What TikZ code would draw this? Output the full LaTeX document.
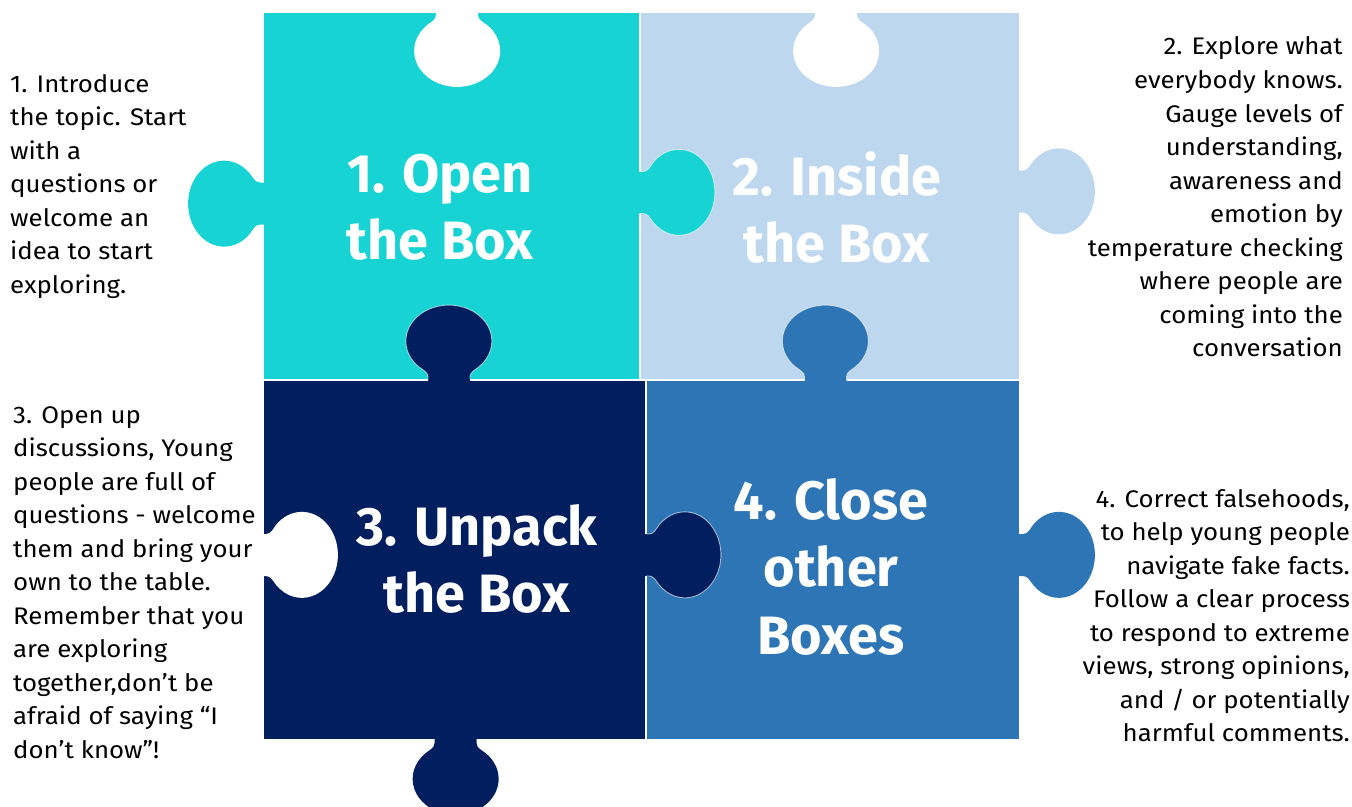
\documentclass[tikz,border=0pt]{standalone}
\usepackage{fontspec}
\setmainfont{Fira Sans}
\newfontfamily\notefont{Fira Sans}[FakeStretch=1.075]
\definecolor{pteal}{HTML}{17D3D3}
\definecolor{plight}{HTML}{BDD7EE}
\definecolor{pnavy}{HTML}{011F5F}
\definecolor{pblue}{HTML}{2E75B6}
\newcommand\linesblock[2]{\begin{tabular}[t]{@{}#1@{}}#2\end{tabular}}
\tikzset{
  % a jigsaw knob: base on the local y-axis, pointing along +x
  knob/.pic={
    \fill[pic actions] (-3,-21) -- (3,-21) .. controls (8,-21) and (10,-26) .. (13,-30)
      arc[start angle=-136,end angle=136,x radius=36,y radius=43]
      .. controls (10,26) and (8,21) .. (3,21) -- (-3,21) -- cycle;
  },
  rim/.pic={
    \draw[white,line width=0.9bp,opacity=0.6] (0,-21) -- (3,-21) .. controls (8,-21) and (10,-26) .. (13,-30)
      arc[start angle=-136,end angle=136,x radius=36,y radius=43]
      .. controls (10,26) and (8,21) .. (3,21) -- (0,21);
  },
  piece/.style={draw=white,line width=1.2bp},
  note/.style={inner sep=0pt,font=\notefont\fontsize{24bp}{33.5bp}\selectfont},
  title/.style={inner sep=0pt,text=white,font=\fontsize{54bp}{67.5bp}\selectfont\bfseries}
}
\begin{document}
\begin{tikzpicture}[x=1bp,y=-1bp]
\useasboundingbox (0,0) rectangle (1352,806);
\clip (0,0) rectangle (1352,806);
% the four square bodies
\fill[pteal,piece] (263,12) rectangle (640,380);
\fill[plight,piece] (640,12) rectangle (1020,380);
\fill[pnavy,piece] (263,380) rectangle (646,740);
\fill[pblue,piece] (646,380) rectangle (1020,740);
% outer knobs
\pic[fill=pteal,rotate=180] at (263,203.5) {knob};
\pic[fill=plight] at (1020,191.5) {knob};
\pic[fill=pnavy,rotate=270] at (455.5,740) {knob};
\pic[fill=pblue] at (1020,555) {knob};
% outer sockets
\pic[fill=white,rotate=270] at (457,12) {knob};
\pic[fill=white,rotate=270] at (836,12) {knob};
\pic[fill=white] at (263,555) {knob};
% inner knobs locking the pieces together
\pic[fill=pteal] at (640,192.5) {knob};
\pic at (640,192.5) {rim};
\pic[fill=pnavy,rotate=90] at (449,380) {knob};
\pic[rotate=90] at (449,380) {rim};
\pic[fill=pblue,rotate=90] at (825.5,380) {knob};
\pic[rotate=90] at (825.5,380) {rim};
\pic[fill=pnavy] at (646,555) {knob};
\pic at (646,555) {rim};
% piece titles
\node[title,anchor=base] (t1) at (440,192) {\linesblock{c}{1. Open\\the Box}};
\node[title,anchor=base] (t2) at (837,195) {\linesblock{c}{2. Inside\\the Box}};
\node[title,anchor=base] (t3) at (477,545) {\linesblock{c}{3. Unpack\\the Box}};
\node[title,anchor=base] (t4) at (831,519) {\linesblock{c}{4. Close\\other\\Boxes}};
% side notes
\node[note,anchor=base west] (n1) at (10,92) {\linesblock{l}{1. Introduce\\the topic. Start\\with a\\questions or\\welcome an\\idea to start\\exploring.}};
\node[note,anchor=base east] (n2) at (1343,55) {\linesblock{r}{2. Explore what\\everybody knows.\\Gauge levels of\\understanding,\\awareness and\\emotion by\\temperature checking\\where people are\\coming into the\\conversation}};
\node[note,anchor=base west] (n3) at (13,423) {\linesblock{l}{3. Open up\\discussions, Young\\people are full of\\questions - welcome\\them and bring your\\own to the table.\\Remember that you\\are exploring\\together,don’t be\\afraid of saying “I\\don’t know”!}};
\node[note,anchor=base east] (n4) at (1350,507) {\linesblock{r}{4. Correct falsehoods,\\to help young people\\navigate fake facts.\\Follow a clear process\\to respond to extreme\\views, strong opinions,\\and / or potentially\\harmful comments.}};
\end{tikzpicture}
\end{document}
